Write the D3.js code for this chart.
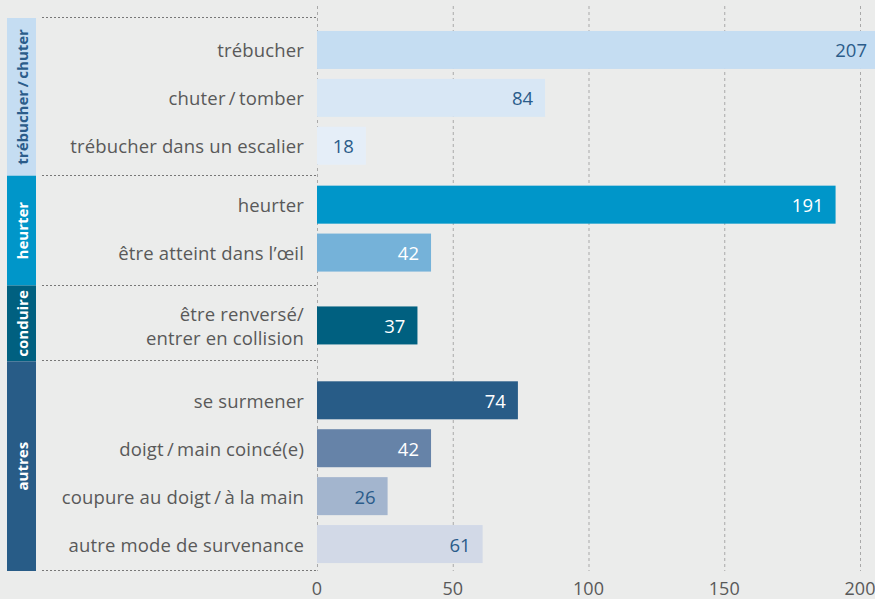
<!DOCTYPE html>
<html>
<head>
<meta charset="utf-8">
<script src="https://cdn.jsdelivr.net/npm/d3@7"></script>
<style>
  body { margin: 0; background: #ebeceb; }
  svg { display: block; font-family: "Open Sans", "Noto Sans", sans-serif; }
</style>
</head>
<body>
<div id="chart"></div>
<script>
// data
var groups = ["trébucher\u2009/\u2009chuter", "heurter", "conduire", "autres"];
var rowGroup = [0, 0, 0, 1, 1, 2, 3, 3, 3, 3];
var rowLabels = [
    ["trébucher"],
    ["chuter\u2009/\u2009tomber"],
    ["trébucher dans un escalier"],
    ["heurter"],
    ["être atteint dans l’œil"],
    ["être renversé/", "entrer en collision"],
    ["se surmener"],
    ["doigt\u2009/\u2009main coincé(e)"],
    ["coupure au doigt\u2009/\u2009à la main"],
    ["autre mode de survenance"]
];
var values = [207, 84, 18, 191, 42, 37, 74, 42, 26, 61];
var xTicks = [0, 50, 100, 150, 200];

// styles
var groupFill = ["#c5ddf2", "#0096c9", "#006080", "#285c87"];
var groupText = ["#2b5c8a", "#ffffff", "#ffffff", "#ffffff"];
var barFill = ["#c5ddf2", "#d8e7f5", "#e5eef8", "#0096c9", "#75b2d9", "#006080", "#285c87", "#6683a8", "#a3b5ce", "#d2d9e7"];
var valueText = ["#2b5c8a", "#2b5c8a", "#2b5c8a", "#ffffff", "#ffffff", "#ffffff", "#ffffff", "#ffffff", "#2b5c8a", "#2b5c8a"];
var labelColour = "#595959";

var width = 875, height = 599;
var plotTop = 18, slotPx = 48;
// padding above / below the rows of each group, in px
var groupPad = [[8, 6], [5, 9], [9, 5], [15, 3]];
var twoLine = 62 / 48;

// build row/group layout in "slot" units
var rows = [], groupSpans = [];
var u = 0;
groups.forEach(function (g, gi) {
    var start = u;
    u += groupPad[gi][0] / slotPx;
    rowGroup.forEach(function (rg, i) {
        if (rg !== gi) return;
        var s = rowLabels[i].length > 1 ? twoLine : 1;
        rows.push({ i: i, mid: u + s / 2, label: rowLabels[i], value: values[i] });
        u += s;
    });
    u += groupPad[gi][1] / slotPx;
    groupSpans.push({ name: g, gi: gi, start: start, end: u });
});

var svg = d3.select("#chart")
    .append("svg")
    .attr("width", width)
    .attr("height", height);

var x = d3.scaleLinear()
    .domain([0, 200])
    .range([317, 860]);

var y = d3.scaleLinear()
    .domain([0, u])
    .range([plotTop, 571]);

var barH = 38;
var yBottom = y(u);

// vertical dotted grid
svg.append("g").selectAll("line")
    .data(xTicks)
    .enter()
    .append("line")
    .attr("x1", function (d) { return x(d) + 0.5; })
    .attr("x2", function (d) { return x(d) + 0.5; })
    .attr("y1", 6)
    .attr("y2", yBottom)
    .attr("stroke", "#a9a9a9")
    .attr("stroke-width", 1)
    .attr("stroke-dasharray", "3,3");

// group separators
var seps = groupSpans.map(function (d) { return d.start; }).concat([u]);
svg.append("g").selectAll("line")
    .data(seps)
    .enter()
    .append("line")
    .attr("x1", 42)
    .attr("x2", x(0))
    .attr("y1", function (d) { return Math.round(y(d)) - 0.5; })
    .attr("y2", function (d) { return Math.round(y(d)) - 0.5; })
    .attr("stroke", "#777")
    .attr("stroke-width", 1)
    .attr("stroke-dasharray", "2,2");

// group boxes
svg.append("g").selectAll("rect")
    .data(groupSpans)
    .enter()
    .append("rect")
    .attr("x", 7)
    .attr("width", 29)
    .attr("y", function (d) { return y(d.start); })
    .attr("height", function (d) { return y(d.end) - y(d.start); })
    .attr("fill", function (d) { return groupFill[d.gi]; });

svg.append("g").selectAll("text")
    .data(groupSpans)
    .enter()
    .append("text")
    .attr("transform", function (d) {
        return "translate(22," + y((d.start + d.end) / 2) + ") rotate(-90)";
    })
    .attr("text-anchor", "middle")
    .attr("dominant-baseline", "central")
    .attr("font-weight", "bold")
    .attr("font-size", 15)
    .attr("fill", function (d) { return groupText[d.gi]; })
    .text(function (d) { return d.name; });

// bars
svg.append("g").selectAll("rect")
    .data(rows)
    .enter()
    .append("rect")
    .attr("x", x(0))
    .attr("y", function (d) { return y(d.mid) - barH / 2; })
    .attr("width", function (d) { return x(d.value) - x(0); })
    .attr("height", barH)
    .attr("fill", function (d) { return barFill[d.i]; });

// values inside bars
svg.append("g").selectAll("text")
    .data(rows)
    .enter()
    .append("text")
    .attr("x", function (d) { return x(d.value) - 12; })
    .attr("y", function (d) { return y(d.mid); })
    .attr("text-anchor", "end")
    .attr("dominant-baseline", "central")
    .attr("font-size", 18.5)
    .attr("fill", function (d) { return valueText[d.i]; })
    .text(function (d) { return d.value; });

// row labels
var lab = svg.append("g").selectAll("text")
    .data(rows)
    .enter()
    .append("text")
    .attr("text-anchor", "end")
    .attr("font-size", 18.5)
    .attr("letter-spacing", 0.15)
    .attr("fill", labelColour);

lab.selectAll("tspan")
    .data(function (d) {
        var n = d.label.length;
        return d.label.map(function (t, k) { return { t: t, dy: (k - (n - 1) / 2) * 23.5, mid: d.mid }; });
    })
    .enter()
    .append("tspan")
    .attr("x", 304)
    .attr("y", function (d) { return y(d.mid) + d.dy; })
    .attr("dominant-baseline", "central")
    .text(function (d) { return d.t; });

// x axis tick labels
svg.append("g").selectAll("text")
    .data(xTicks)
    .enter()
    .append("text")
    .attr("x", function (d) { return x(d); })
    .attr("y", 595)
    .attr("text-anchor", "middle")
    .attr("font-size", 18)
    .attr("fill", labelColour)
    .text(function (d) { return d; });
</script>
</body>
</html>
